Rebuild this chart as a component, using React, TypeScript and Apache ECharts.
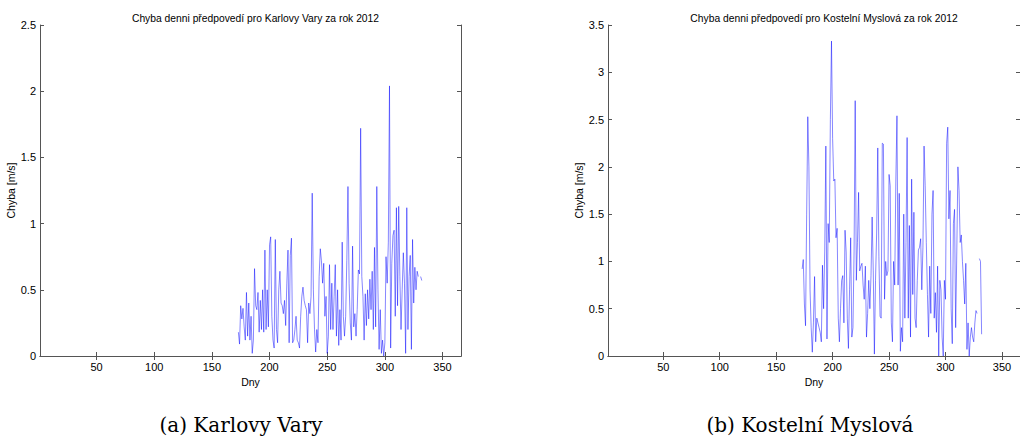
import React, { useEffect, useRef } from "react";
import * as echarts from "echarts";

const START_DAY = 173;
const karlovyVary: (number | null)[] = [
  0.18, 0.09, 0.38, 0.28, 0.36, 0.22, 0.12, 0.48, 0.15, 0.4,
  0.12, 0.3, 0.02, 0.12, 0.66, 0.38, 0.35, 0.48, 0.18, 0.42,
  0.2, 0.5, 0.18, 0.8, 0.2, 0.5, 0.22, 0.84, 0.9, 0.3,
  0.12, 0.06, 0.88, 0.2, 0.1, 0.5, 0.64, 0.4, 0.38, 0.32,
  0.42, 0.23, 0.55, 0.8, 0.1, 0.76, 0.89, 0.1, 0.12, 0.2,
  0.3, 0.12, 0.1, 0.06, 0.3, 0.45, 0.52, 0.42, 0.38, 0.35,
  0.1, 0.4, 0.32, 0.45, 1.23, 0.5, 0.2, 0.03, 0.2, 0.1,
  0.6, 0.81, 0.72, 0.55, 0.7, 0.3, 0.45, 0.02, 0.15, 0.69,
  0.2, 0.55, 0.2, 0.45, 0.69, 0.15, 0.5, 0.08, 0.35, 0.12,
  0.86, 0.3, 0.15, 0.3, 0.72, 1.28, 0.55, 0.25, 0.12, 0.83,
  0.22, 0.32, 0.15, 0.35, 0.65, 0.62, 1.72, 0.6, 0.45, 0.12,
  0.47, 0.23, 0.5, 0.28, 0.58, 0.35, 0.64, 0.2, 0.82, 0.22,
  1.28, 0.5, 0.05, 0.35, 0.02, 0.12, 0.0, 0.1, 0.75, 0.55,
  0.86, 2.04, 0.06, 0.7, 0.91, 0.95, 0.3, 1.12, 0.38, 1.13,
  0.6, 0.2, 0.5, 0.78, 0.55, 0.02, 1.12, 0.2, 0.6, 0.76,
  0.05, 0.88, 0.4, 0.67, 0.5, 0.64, 0.6, null, 0.6, 0.57,
];
const kostelniMyslova: (number | null)[] = [
  0.92, 1.02, 0.55, 0.32, 1.5, 2.53, 2.0, 0.7, 0.3, 0.04,
  0.35, 0.84, 0.15, 0.4, 0.35, 0.3, 0.25, 0.15, 0.96, 0.5,
  1.1, 2.22, 0.18, 1.4, 1.2, 2.5, 3.33, 2.3, 1.85, 1.87,
  1.25, 1.35, 0.4, 0.15, 0.5, 0.8, 0.85, 0.35, 1.33, 1.1,
  0.4, 0.08, 0.7, 1.25, 0.2, 0.3, 1.1, 2.7, 0.8, 1.2,
  1.73, 0.9, 0.95, 0.98, 0.75, 0.6, 0.95, 0.2, 0.45, 0.8,
  0.5, 0.85, 1.47, 0.9, 0.02, 0.8, 1.3, 2.2, 1.05, 0.42,
  0.4, 2.25, 2.24, 0.6, 1.0, 0.85, 0.9, 1.92, 1.8, 0.35,
  0.15, 1.0, 0.75, 1.85, 2.54, 0.75, 1.72, 0.05, 0.3, 0.15,
  1.5, 0.4, 1.2, 2.31, 0.4, 1.38, 0.2, 1.87, 0.65, 1.52,
  0.4, 0.3, 0.8, 1.12, 1.15, 1.24, 0.7, 1.15, 2.22, 1.8,
  1.2, 0.65, 0.2, 0.95, 0.45, 1.5, 1.75, 0.4, 0.67, 0.25,
  0.95, 0.0, 0.8, 0.7, 0.2, 0.0, 0.8, 0.6, 2.25, 2.42,
  1.45, 1.75, 0.5, 0.13, 1.4, 1.55, 0.3, 1.1, 2.0, 1.75,
  1.2, 1.28, 1.0, 0.8, 0.55, 0.98, 0.07, 0.35, 0.0, 0.2,
  0.3, 0.2, 0.15, 0.35, 0.48, 0.45, null, 1.03, 1.0, 0.23,
];
const xTicks = [50, 100, 150, 200, 250, 300, 350];
const titles = [
  "Chyba denni předpovedí pro Karlovy Vary za rok 2012",
  "Chyba denni předpovedí pro Kostelní Myslová za rok 2012",
];
const captions = ["(a) Karlovy Vary", "(b) Kostelní Myslová"];
const yMax = [2.5, 3.5];

const FONT = "Liberation Sans";

export default function App() {
  const ref = useRef<HTMLDivElement>(null);
  useEffect(() => {
    document.body.style.margin = "0";
    const chart = echarts.init(ref.current!, null, { renderer: "svg" });
    const grids = [
      { left: 40, top: 25, width: 421, height: 331 },
      { left: 608, top: 25, width: 422, height: 331 },
    ];
    const axisLine = { show: true, lineStyle: { color: "#555", width: 1 } };
    const xAxis: any[] = [];
    const yAxis: any[] = [];
    grids.forEach((_, i) => {
      xAxis.push({
        type: "value", gridIndex: i, min: 1, max: 366, position: "bottom",
        name: "Dny", nameLocation: "middle", nameGap: 17,
        nameTextStyle: { fontFamily: FONT, fontSize: 10.5, color: "#000" },
        axisLine, splitLine: { show: false },
        axisTick: { show: true, inside: true, length: 4, customValues: xTicks, lineStyle: { color: "#555" } },
        axisLabel: { fontFamily: FONT, fontSize: 11, color: "#000", margin: 5, customValues: xTicks },
      });
      xAxis.push({
        type: "value", gridIndex: i, min: 1, max: 366, position: "top",
        axisLine, splitLine: { show: false },
        axisTick: { show: true, inside: true, length: 4, customValues: xTicks, lineStyle: { color: "#555" } },
        axisLabel: { show: false },
      });
      yAxis.push({
        type: "value", gridIndex: i, min: 0, max: yMax[i], interval: 0.5, position: "left",
        name: "Chyba [m/s]", nameLocation: "middle", nameGap: 20,
        nameTextStyle: { fontFamily: FONT, fontSize: 10.5, color: "#000" },
        axisLine, splitLine: { show: false },
        axisTick: { show: true, inside: true, length: 4, lineStyle: { color: "#555" } },
        axisLabel: { fontFamily: FONT, fontSize: 11, color: "#000", margin: 4 },
      });
      yAxis.push({
        type: "value", gridIndex: i, min: 0, max: yMax[i], interval: 0.5, position: "right",
        axisLine, splitLine: { show: false },
        axisTick: { show: true, inside: true, length: 4, lineStyle: { color: "#555" } },
        axisLabel: { show: false },
      });
    });
    const toData = (arr: (number | null)[]) => arr.map((v, k) => [START_DAY + k, v]);
    const lineStyle = { color: "#0000ff", width: 0.6, opacity: 0.8 };
    chart.setOption({
      animation: false,
      title: grids.map((g, i) => ({
        text: titles[i],
        left: g.left + g.width / 2,
        textAlign: "center",
        top: 8,
        textStyle: { fontFamily: FONT, fontSize: 10.3, fontWeight: "normal", color: "#000" },
      })),
      grid: grids,
      xAxis,
      yAxis,
      series: [
        { type: "line", xAxisIndex: 0, yAxisIndex: 0, data: toData(karlovyVary), showSymbol: false, connectNulls: false, lineStyle },
        { type: "line", xAxisIndex: 2, yAxisIndex: 2, data: toData(kostelniMyslova), showSymbol: false, connectNulls: false, lineStyle },
      ],
      graphic: [
        { type: "text", x: 241, y: 425, style: { text: captions[0], font: "20px 'DejaVu Serif'", fill: "#000", align: "center", verticalAlign: "middle" } },
        { type: "text", x: 810, y: 425, style: { text: captions[1], font: "20px 'DejaVu Serif'", fill: "#000", align: "center", verticalAlign: "middle" } },
      ],
    });
    return () => chart.dispose();
  }, []);
  return <div ref={ref} style={{ width: 1020, height: 438 }} />;
}
